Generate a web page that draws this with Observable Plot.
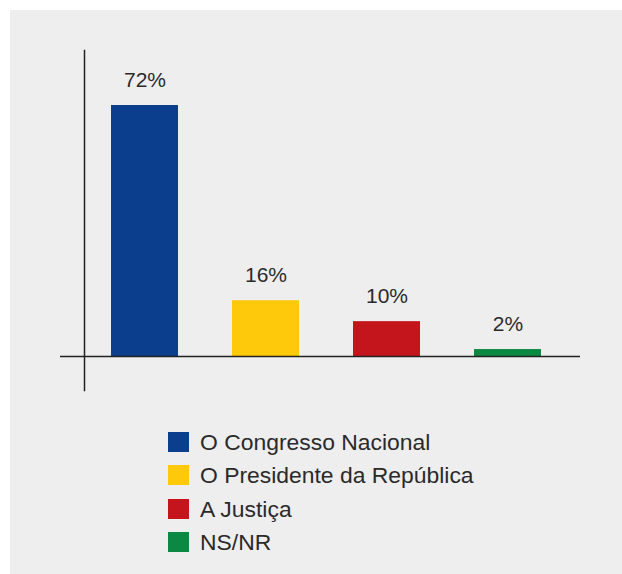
<!DOCTYPE html>
<html>
<head>
<meta charset="utf-8">
<script src="https://cdn.jsdelivr.net/npm/d3@7"></script>
<script src="https://cdn.jsdelivr.net/npm/@observablehq/plot@0.6"></script>
<style>
  html, body { margin: 0; padding: 0; background: #ffffff; }
  body { width: 622px; height: 574px; position: relative; overflow: hidden;
         font-family: "Liberation Sans", Arial, Helvetica, sans-serif; }
  #panel { position: absolute; left: 10px; top: 10px; width: 612px; height: 564px; background: #eeeeee; }
  #chart { position: absolute; left: 0; top: 0; }
  #legend { position: absolute; left: 168px; top: 432px; }
  .row { display: flex; align-items: center; height: 20px; margin-bottom: 13.3px; }
  .sw { width: 21px; height: 20px; margin-right: 11px; flex: none; }
  .lb { font-size: 22.9px; color: #2a2a2a; white-space: nowrap; line-height: 20px; }
</style>
</head>
<body>
<div id="panel"></div>
<div id="chart"></div>
<div id="legend"></div>
<script>
const categories = ["O Congresso Nacional", "O Presidente da República", "A Justiça", "NS/NR"];
const values = [72, 16, 10, 2];
const colors = ["#0b3f8e", "#fec90b", "#c3151b", "#0b8943"];

const data = categories.map((c, i) => ({category: c, value: values[i]}));

const chart = Plot.plot({
  width: 622,
  height: 400,
  marginTop: 50,
  marginBottom: 10,
  marginLeft: 84,
  marginRight: 42,
  style: {background: "transparent", fontFamily: "'Liberation Sans', Arial, Helvetica, sans-serif"},
  x: {domain: categories, axis: null, paddingInner: 0.4478, paddingOuter: 0.268, align: 0.415},
  y: {domain: [-9.75, 87.78], axis: null},
  color: {domain: categories, range: colors},
  marks: [
    Plot.barY(data, {x: "category", y: "value", fill: "category"}),
    Plot.ruleY([0], {stroke: "#222222", strokeWidth: 1.5, insetLeft: -24}),
    Plot.frame({anchor: "left", stroke: "#222222", strokeWidth: 1.5}),
    Plot.text(data, {x: "category", y: "value", text: d => d.value + "%", lineAnchor: "bottom", dy: -19, fontSize: 21, fill: "#2a2a2a"})
  ]
});
document.getElementById("chart").appendChild(chart);

const legend = document.getElementById("legend");
categories.forEach((c, i) => {
  const row = document.createElement("div");
  row.className = "row";
  const sw = document.createElement("div");
  sw.className = "sw";
  sw.style.background = colors[i];
  const lb = document.createElement("div");
  lb.className = "lb";
  lb.textContent = c;
  row.appendChild(sw);
  row.appendChild(lb);
  legend.appendChild(row);
});
</script>
</body>
</html>
